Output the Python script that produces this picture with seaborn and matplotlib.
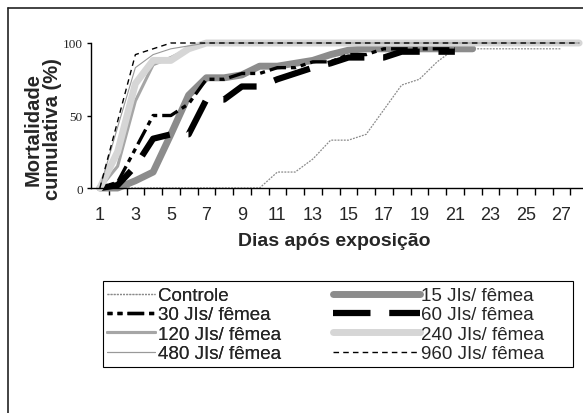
import numpy as np
import pandas as pd
import seaborn as sns
import matplotlib.pyplot as plt
from matplotlib.lines import Line2D

sns.set_style("white")
plt.rcParams['font.family'] = ['Liberation Sans', 'DejaVu Sans']

# mortalidade cumulativa (%) por dia apos exposicao
controle = [0, 0, 0, 0, 0, 0, 0, 0, 0, 0, 11, 11, 20, 33, 33, 37, 54, 71, 75, 87,
            96, 96, 96, 96, 96, 96, 96]
jis15 = [0, 0, 5, 11, 37, 64, 76, 76, 78, 84, 84, 86, 88, 92, 95, 96, 96, 96, 96, 96,
         96, 96]
jis30 = [0, 4, 27, 50, 50, 58, 75, 75, 79, 79, 83, 83, 87, 87, 92, 92, 96, 96, 96, 96, 96]
jis60 = [0, 2, 15, 34, 37, 37, 61, 61, 70, 70, 75, 79, 83, 86, 90, 90, 90, 94, 94, 94, 94]
jis120 = [0, 15, 60, 85, 90, 96, 100, 100, 100, 100, 100, 100, 100, 100, 100, 100, 100,
          100, 100, 100, 100, 100, 100, 100, 100, 100, 100, 100]
jis240 = [0, 25, 72, 88, 88, 96, 100, 100, 100, 100, 100, 100, 100, 100, 100, 100, 100,
          100, 100, 100, 100, 100, 100, 100, 100, 100, 100, 100]
jis480 = [0, 42, 83, 92, 96, 98, 100, 100, 100, 100, 100, 100, 100, 100, 100, 100, 100,
          100, 100, 100, 100, 100, 100, 100, 100, 100, 100, 100]
jis960 = [0, 46, 92, 96, 100, 100, 100, 100, 100, 100, 100, 100, 100, 100, 100, 100, 100,
          100, 100, 100, 100, 100, 100, 100, 100, 100, 100, 100]

series = [
    ("Controle", controle, dict(color="#8a8a8a", lw=0.9, ls=(0, (1.5, 1)))),
    ("15 JIs/ fêmea", jis15, dict(color="#8c8c8c", lw=5.0, ls="-")),
    ("30 JIs/ fêmea", jis30, dict(color="black", lw=2.4, ls=(0, (1.5, 1.5, 1.5, 1.5, 5, 1.5)))),
    ("60 JIs/ fêmea", jis60, dict(color="black", lw=4.5, ls=(0, (6, 3)))),
    ("120 JIs/ fêmea", jis120, dict(color="#a6a6a6", lw=2.2, ls="-")),
    ("240 JIs/ fêmea", jis240, dict(color="#d6d6d6", lw=5.0, ls="-")),
    ("480 JIs/ fêmea", jis480, dict(color="#999999", lw=0.8, ls="-")),
    ("960 JIs/ fêmea", jis960, dict(color="black", lw=1.0, ls=(0, (4, 3)))),
]

fig = plt.figure(figsize=(5.83, 4.14), dpi=100)
ax = fig.add_axes([91 / 583, 225 / 414, 497 / 583, 145 / 414])

handles = []
for name, vals, st in series:
    df = pd.DataFrame({"dia": np.arange(1, len(vals) + 1), "mort": vals})
    sns.lineplot(data=df, x="dia", y="mort", ax=ax, color=st["color"], lw=st["lw"],
                 linestyle=st["ls"], clip_on=False, legend=False)
    handles.append(Line2D([], [], color=st["color"], lw=st["lw"], linestyle=st["ls"]))

ax.set_xlim(0.5, 28.5)
ax.set_ylim(0, 100)
sns.despine(ax=ax)
for s in ["left", "bottom"]:
    ax.spines[s].set_color("black")
    ax.spines[s].set_linewidth(1.0)

ax.set_xticks(np.arange(1.5, 29, 1))
ax.set_xticklabels([])
ax.set_xticks(np.arange(1, 28, 2), minor=True)
ax.set_xticklabels([str(d) for d in range(1, 28, 2)], minor=True, fontsize=13)
ax.tick_params(axis="x", which="major", direction="out", length=5, width=1, color="black",
               bottom=True)
ax.tick_params(axis="x", which="minor", length=0, pad=13, bottom=True)

ax.set_yticks([0, 50, 100])
ax.set_yticklabels(["0", "50", "100"], family="Liberation Serif", fontsize=9.5)
ax.tick_params(axis="y", direction="out", length=3, width=1, color="black", left=True, pad=3)

ax.set_xlabel("Dias após exposição", fontsize=14, fontweight="bold")
ax.set_ylabel("Mortalidade\ncumulativa (%)", fontsize=14.5, fontweight="bold", linespacing=1.0)
ax.xaxis.set_label_coords((334 - 91) / 497, -(233 - 189) / 145)
ax.yaxis.set_label_coords(-(91 - 62) / 497, (189 - 129) / 145)

# legenda em duas colunas com comprimentos de linha diferentes
leg1 = fig.legend(handles[0::2], [s[0] for s in series[0::2]], loc="upper left",
                  bbox_to_anchor=(107 / 583, 1 - 288 / 414), frameon=False, fontsize=13.5,
                  handlelength=2.56, handletextpad=0.16, borderpad=0, borderaxespad=0,
                  labelspacing=0.12)
fig.add_artist(leg1)
leg2 = fig.legend(handles[1::2], [s[0] for s in series[1::2]], loc="upper left",
                  bbox_to_anchor=(333 / 583, 1 - 288 / 414), frameon=False, fontsize=13.5,
                  handlelength=4.64, handletextpad=0.03, borderpad=0, borderaxespad=0,
                  labelspacing=0.12)
fig.add_artist(plt.Rectangle((103 / 583, 1 - 368 / 414), 470 / 583, 86 / 414,
                             transform=fig.transFigure, fill=False, lw=0.8, ec="black"))

# moldura externa (cortada a direita e embaixo)
fig.add_artist(Line2D([8 / 583, 8 / 583], [-0.1, 1 - 9 / 414], transform=fig.transFigure,
                      color="#222222", lw=1.2))
fig.add_artist(Line2D([8 / 583, 1.1], [1 - 9 / 414, 1 - 9 / 414], transform=fig.transFigure,
                      color="#222222", lw=1.2))

fig.savefig("out.png", dpi=100)
